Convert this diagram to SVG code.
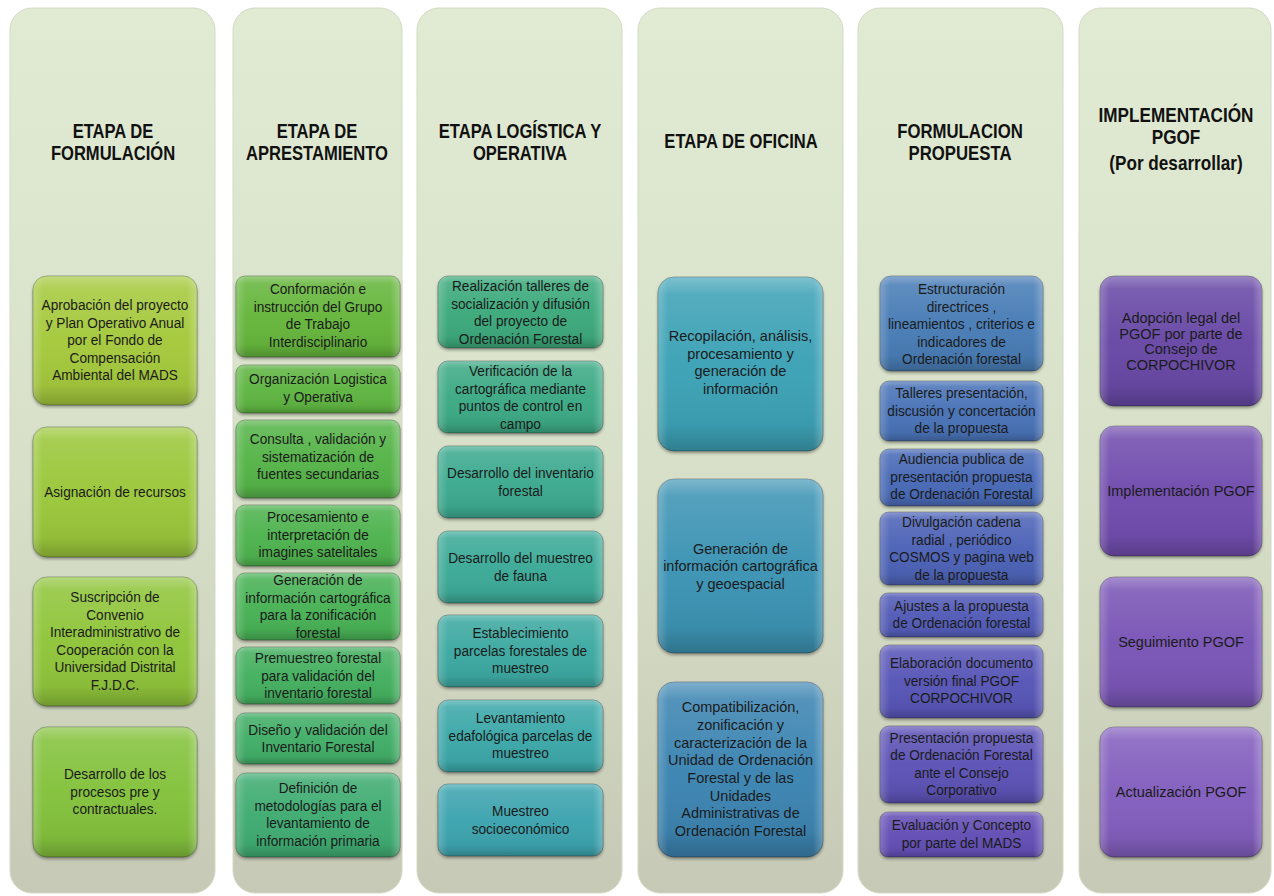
<svg xmlns="http://www.w3.org/2000/svg" width="1274" height="896" viewBox="0 0 1274 896">
<defs>
<linearGradient id="pg" x1="0" y1="0" x2="0" y2="1">
<stop offset="0" stop-color="#e1ebd3"/>
<stop offset="0.55" stop-color="#d7dfc8"/>
<stop offset="1" stop-color="#c6c9b5"/>
</linearGradient>
<linearGradient id="gloss" x1="0" y1="0" x2="0" y2="1">
<stop offset="0" stop-color="#fff" stop-opacity="0.34"/>
<stop offset="0.1" stop-color="#fff" stop-opacity="0.12"/>
<stop offset="0.5" stop-color="#fff" stop-opacity="0.02"/>
<stop offset="0.85" stop-color="#000" stop-opacity="0.05"/>
<stop offset="1" stop-color="#000" stop-opacity="0.22"/>
</linearGradient>
<linearGradient id="side" x1="0" y1="0" x2="1" y2="0">
<stop offset="0" stop-color="#fff" stop-opacity="0.2"/>
<stop offset="0.06" stop-color="#fff" stop-opacity="0"/>
<stop offset="0.94" stop-color="#fff" stop-opacity="0"/>
<stop offset="1" stop-color="#fff" stop-opacity="0.25"/>
</linearGradient>
<filter id="sh" x="-10%" y="-10%" width="120%" height="125%">
<feDropShadow dx="0" dy="2" stdDeviation="1.6" flood-color="#000" flood-opacity="0.35"/>
</filter>
</defs>
<style>
.panel{fill:url(#pg);stroke:#d2dac4;stroke-width:1}
.hd{font-family:"Liberation Sans",Arial,sans-serif;font-weight:bold;font-size:19.5px;fill:#111;text-anchor:middle}
.tn{font-family:"Liberation Sans",Arial,sans-serif;font-size:15.5px;fill:#1b1b1b;text-anchor:middle}
.tr{font-family:"Liberation Sans",Arial,sans-serif;font-size:14.5px;fill:#1b1b1b;text-anchor:middle}
.box{stroke:#000;stroke-opacity:0.3;stroke-width:1;filter:url(#sh)}
.gl{fill:url(#gloss)}
.sd{fill:url(#side)}
</style>
<rect width="1274" height="896" fill="#fff"/>

<g id="panels">
<rect class="panel" x="10" y="8" width="205" height="885" rx="22"/>
<rect class="panel" x="233" y="8" width="169" height="885" rx="22"/>
<rect class="panel" x="417" y="8" width="205" height="885" rx="22"/>
<rect class="panel" x="638" y="8" width="205" height="885" rx="22"/>
<rect class="panel" x="858" y="8" width="205" height="885" rx="22"/>
<rect class="panel" x="1079" y="8" width="192" height="885" rx="22"/>
</g>

<g id="headers">
<g id="h1" transform="translate(113 0) scale(0.85 1)"><text class="hd"><tspan x="0" y="138">ETAPA DE</tspan><tspan x="0" y="160">FORMULACIÓN</tspan></text></g>
<g id="h2" transform="translate(317 0) scale(0.85 1)"><text class="hd"><tspan x="0" y="138">ETAPA DE</tspan><tspan x="0" y="160">APRESTAMIENTO</tspan></text></g>
<g id="h3" transform="translate(520 0) scale(0.85 1)"><text class="hd"><tspan x="0" y="138">ETAPA LOGÍSTICA Y</tspan><tspan x="0" y="160">OPERATIVA</tspan></text></g>
<g id="h4" transform="translate(741 0) scale(0.85 1)"><text class="hd"><tspan x="0" y="148">ETAPA DE OFICINA</tspan></text></g>
<g id="h5" transform="translate(960 0) scale(0.86 1)"><text class="hd"><tspan x="0" y="138">FORMULACION</tspan><tspan x="0" y="160">PROPUESTA</tspan></text></g>
<g id="h6" transform="translate(1176 0) scale(0.88 1)"><text class="hd"><tspan x="0" y="122">IMPLEMENTACIÓN</tspan><tspan x="0" y="144">PGOF</tspan><tspan x="0" y="170.5">(Por desarrollar)</tspan></text></g>
</g>

<!-- Column 1 -->
<g id="c1b1"><rect class="box" x="33" y="276" width="164" height="129" rx="14" fill="#a5c93c"/><rect class="gl" x="33" y="276" width="164" height="129" rx="14"/><rect class="sd" x="33" y="276" width="164" height="129" rx="14"/>
<g transform="translate(115 0) scale(0.88 1)"><text class="tn"><tspan x="0" y="310.5">Aprobación del proyecto</tspan><tspan x="0" y="328">y Plan Operativo Anual</tspan><tspan x="0" y="345.5">por el Fondo de</tspan><tspan x="0" y="363">Compensación</tspan><tspan x="0" y="380.5">Ambiental del MADS</tspan></text></g></g>
<g id="c1b2"><rect class="box" x="33" y="427" width="164" height="130" rx="14" fill="#9bc73a"/><rect class="gl" x="33" y="427" width="164" height="130" rx="14"/><rect class="sd" x="33" y="427" width="164" height="130" rx="14"/>
<g transform="translate(115 0) scale(0.88 1)"><text class="tn"><tspan x="0" y="497">Asignación de recursos</tspan></text></g></g>
<g id="c1b3"><rect class="box" x="33" y="577" width="164" height="129" rx="14" fill="#90c53a"/><rect class="gl" x="33" y="577" width="164" height="129" rx="14"/><rect class="sd" x="33" y="577" width="164" height="129" rx="14"/>
<g transform="translate(115 0) scale(0.88 1)"><text class="tn"><tspan x="0" y="602.5">Suscripción de</tspan><tspan x="0" y="620">Convenio</tspan><tspan x="0" y="637.5">Interadministrativo de</tspan><tspan x="0" y="655">Cooperación con la</tspan><tspan x="0" y="672.5">Universidad Distrital</tspan><tspan x="0" y="690">F.J.D.C.</tspan></text></g></g>
<g id="c1b4"><rect class="box" x="33" y="727" width="164" height="130" rx="14" fill="#84c23d"/><rect class="gl" x="33" y="727" width="164" height="130" rx="14"/><rect class="sd" x="33" y="727" width="164" height="130" rx="14"/>
<g transform="translate(115 0) scale(0.88 1)"><text class="tn"><tspan x="0" y="779.5">Desarrollo de los</tspan><tspan x="0" y="797">procesos pre y</tspan><tspan x="0" y="814.5">contractuales.</tspan></text></g></g>

<!-- Column 2 -->
<g id="c2b1"><rect class="box" x="236" y="276" width="164" height="81" rx="9" fill="#66b63e"/><rect class="gl" x="236" y="276" width="164" height="81" rx="9"/><rect class="sd" x="236" y="276" width="164" height="81" rx="9"/>
<g transform="translate(318 0) scale(0.88 1)"><text class="tn"><tspan x="0" y="294.5">Conformación e</tspan><tspan x="0" y="312">instrucción del Grupo</tspan><tspan x="0" y="329.5">de Trabajo</tspan><tspan x="0" y="347">Interdisciplinario</tspan></text></g></g>
<g id="c2b2"><rect class="box" x="236" y="365" width="164" height="48" rx="8" fill="#5eb543"/><rect class="gl" x="236" y="365" width="164" height="48" rx="8"/><rect class="sd" x="236" y="365" width="164" height="48" rx="8"/>
<g transform="translate(318 0) scale(0.88 1)"><text class="tn"><tspan x="0" y="384.5">Organización Logistica</tspan><tspan x="0" y="402">y Operativa</tspan></text></g></g>
<g id="c2b3"><rect class="box" x="236" y="420" width="164" height="78" rx="9" fill="#56b448"/><rect class="gl" x="236" y="420" width="164" height="78" rx="9"/><rect class="sd" x="236" y="420" width="164" height="78" rx="9"/>
<g transform="translate(318 0) scale(0.88 1)"><text class="tn"><tspan x="0" y="444.5">Consulta , validación y</tspan><tspan x="0" y="462">sistematización de</tspan><tspan x="0" y="479.5">fuentes secundarias</tspan></text></g></g>
<g id="c2b4"><rect class="box" x="236" y="505" width="164" height="61" rx="9" fill="#4fb34f"/><rect class="gl" x="236" y="505" width="164" height="61" rx="9"/><rect class="sd" x="236" y="505" width="164" height="61" rx="9"/>
<g transform="translate(318 0) scale(0.88 1)"><text class="tn"><tspan x="0" y="522.5">Procesamiento e</tspan><tspan x="0" y="540">interpretación de</tspan><tspan x="0" y="557.5">imagines satelitales</tspan></text></g></g>
<g id="c2b5"><rect class="box" x="236" y="573" width="164" height="67" rx="9" fill="#49b257"/><rect class="gl" x="236" y="573" width="164" height="67" rx="9"/><rect class="sd" x="236" y="573" width="164" height="67" rx="9"/>
<g transform="translate(318 0) scale(0.88 1)"><text class="tn"><tspan x="0" y="585.5">Generación de</tspan><tspan x="0" y="603">información cartográfica</tspan><tspan x="0" y="620.5">para la zonificación</tspan><tspan x="0" y="638">forestal</tspan></text></g></g>
<g id="c2b6"><rect class="box" x="236" y="647" width="164" height="57" rx="9" fill="#45b060"/><rect class="gl" x="236" y="647" width="164" height="57" rx="9"/><rect class="sd" x="236" y="647" width="164" height="57" rx="9"/>
<g transform="translate(318 0) scale(0.88 1)"><text class="tn"><tspan x="0" y="663.5">Premuestreo forestal</tspan><tspan x="0" y="681">para validación del</tspan><tspan x="0" y="698.5">inventario forestal</tspan></text></g></g>
<g id="c2b7"><rect class="box" x="236" y="713" width="164" height="51" rx="9" fill="#42ae68"/><rect class="gl" x="236" y="713" width="164" height="51" rx="9"/><rect class="sd" x="236" y="713" width="164" height="51" rx="9"/>
<g transform="translate(318 0) scale(0.88 1)"><text class="tn"><tspan x="0" y="735">Diseño y validación del</tspan><tspan x="0" y="752.5">Inventario Forestal</tspan></text></g></g>
<g id="c2b8"><rect class="box" x="236" y="773" width="164" height="84" rx="10" fill="#40ac72"/><rect class="gl" x="236" y="773" width="164" height="84" rx="10"/><rect class="sd" x="236" y="773" width="164" height="84" rx="10"/>
<g transform="translate(318 0) scale(0.88 1)"><text class="tn"><tspan x="0" y="793.5">Definición de</tspan><tspan x="0" y="811">metodologías para el</tspan><tspan x="0" y="828.5">levantamiento de</tspan><tspan x="0" y="846">información primaria</tspan></text></g></g>

<!-- Column 3 -->
<g id="c3b1"><rect class="box" x="438" y="276" width="165" height="72" rx="10" fill="#3caa7b"/><rect class="gl" x="438" y="276" width="165" height="72" rx="10"/><rect class="sd" x="438" y="276" width="165" height="72" rx="10"/>
<g transform="translate(520.5 0) scale(0.88 1)"><text class="tn"><tspan x="0" y="291.5">Realización talleres de</tspan><tspan x="0" y="309">socialización y difusión</tspan><tspan x="0" y="326.5">del proyecto de</tspan><tspan x="0" y="344">Ordenación Forestal</tspan></text></g></g>
<g id="c3b2"><rect class="box" x="438" y="361" width="165" height="72" rx="10" fill="#3caa85"/><rect class="gl" x="438" y="361" width="165" height="72" rx="10"/><rect class="sd" x="438" y="361" width="165" height="72" rx="10"/>
<g transform="translate(520.5 0) scale(0.88 1)"><text class="tn"><tspan x="0" y="376.5">Verificación de la</tspan><tspan x="0" y="394">cartográfica mediante</tspan><tspan x="0" y="411.5">puntos de control en</tspan><tspan x="0" y="429">campo</tspan></text></g></g>
<g id="c3b3"><rect class="box" x="438" y="446" width="165" height="72" rx="10" fill="#3caa8f"/><rect class="gl" x="438" y="446" width="165" height="72" rx="10"/><rect class="sd" x="438" y="446" width="165" height="72" rx="10"/>
<g transform="translate(520.5 0) scale(0.88 1)"><text class="tn"><tspan x="0" y="478.5">Desarrollo del inventario</tspan><tspan x="0" y="496">forestal</tspan></text></g></g>
<g id="c3b4"><rect class="box" x="438" y="531" width="165" height="72" rx="10" fill="#3caa98"/><rect class="gl" x="438" y="531" width="165" height="72" rx="10"/><rect class="sd" x="438" y="531" width="165" height="72" rx="10"/>
<g transform="translate(520.5 0) scale(0.88 1)"><text class="tn"><tspan x="0" y="563.5">Desarrollo del muestreo</tspan><tspan x="0" y="581">de fauna</tspan></text></g></g>
<g id="c3b5"><rect class="box" x="438" y="615" width="165" height="72" rx="10" fill="#3ca9a1"/><rect class="gl" x="438" y="615" width="165" height="72" rx="10"/><rect class="sd" x="438" y="615" width="165" height="72" rx="10"/>
<g transform="translate(520.5 0) scale(0.88 1)"><text class="tn"><tspan x="0" y="638.5">Establecimiento</tspan><tspan x="0" y="656">parcelas forestales de</tspan><tspan x="0" y="673.5">muestreo</tspan></text></g></g>
<g id="c3b6"><rect class="box" x="438" y="700" width="165" height="72" rx="10" fill="#3ca8a9"/><rect class="gl" x="438" y="700" width="165" height="72" rx="10"/><rect class="sd" x="438" y="700" width="165" height="72" rx="10"/>
<g transform="translate(520.5 0) scale(0.88 1)"><text class="tn"><tspan x="0" y="723.5">Levantamiento</tspan><tspan x="0" y="741">edafológica parcelas de</tspan><tspan x="0" y="758.5">muestreo</tspan></text></g></g>
<g id="c3b7"><rect class="box" x="438" y="784" width="165" height="72" rx="10" fill="#3ca4af"/><rect class="gl" x="438" y="784" width="165" height="72" rx="10"/><rect class="sd" x="438" y="784" width="165" height="72" rx="10"/>
<g transform="translate(520.5 0) scale(0.88 1)"><text class="tn"><tspan x="0" y="816.5">Muestreo</tspan><tspan x="0" y="834">socioeconómico</tspan></text></g></g>

<!-- Column 4 -->
<g id="c4b1"><rect class="box" x="658" y="277" width="165" height="174" rx="16" fill="#3ea2b6"/><rect class="gl" x="658" y="277" width="165" height="174" rx="16"/><rect class="sd" x="658" y="277" width="165" height="174" rx="16"/>
<text class="tr"><tspan x="740.5" y="341">Recopilación, análisis,</tspan><tspan x="740.5" y="358.7">procesamiento y</tspan><tspan x="740.5" y="376.4">generación de</tspan><tspan x="740.5" y="394.1">información</tspan></text></g>
<g id="c4b2"><rect class="box" x="658" y="479" width="165" height="174" rx="16" fill="#3d94b4"/><rect class="gl" x="658" y="479" width="165" height="174" rx="16"/><rect class="sd" x="658" y="479" width="165" height="174" rx="16"/>
<text class="tr"><tspan x="740.5" y="553.5">Generación de</tspan><tspan x="740.5" y="571.2">información cartográfica</tspan><tspan x="740.5" y="588.9">y geoespacial</tspan></text></g>
<g id="c4b3"><rect class="box" x="658" y="682" width="165" height="175" rx="16" fill="#3c85b2"/><rect class="gl" x="658" y="682" width="165" height="175" rx="16"/><rect class="sd" x="658" y="682" width="165" height="175" rx="16"/>
<text class="tr"><tspan x="740.5" y="712.2">Compatibilización,</tspan><tspan x="740.5" y="729.9">zonificación y</tspan><tspan x="740.5" y="747.6">caracterización de la</tspan><tspan x="740.5" y="765.3">Unidad de Ordenación</tspan><tspan x="740.5" y="783">Forestal y de las</tspan><tspan x="740.5" y="800.7">Unidades</tspan><tspan x="740.5" y="818.4">Administrativas de</tspan><tspan x="740.5" y="836.1">Ordenación Forestal</tspan></text></g>

<!-- Column 5 -->
<g id="c5b1"><rect class="box" x="880" y="276" width="163" height="95" rx="11" fill="#487db6"/><rect class="gl" x="880" y="276" width="163" height="95" rx="11"/><rect class="sd" x="880" y="276" width="163" height="95" rx="11"/>
<g transform="translate(961.5 0) scale(0.88 1)"><text class="tn"><tspan x="0" y="294.5">Estructuración</tspan><tspan x="0" y="312">directrices ,</tspan><tspan x="0" y="329.5">lineamientos , criterios e</tspan><tspan x="0" y="347">indicadores de</tspan><tspan x="0" y="364.5">Ordenación forestal</tspan></text></g></g>
<g id="c5b2"><rect class="box" x="880" y="381" width="163" height="60" rx="9" fill="#4873b7"/><rect class="gl" x="880" y="381" width="163" height="60" rx="9"/><rect class="sd" x="880" y="381" width="163" height="60" rx="9"/>
<g transform="translate(961.5 0) scale(0.88 1)"><text class="tn"><tspan x="0" y="398.5">Talleres presentación,</tspan><tspan x="0" y="416">discusión y concertación</tspan><tspan x="0" y="433.5">de la propuesta</tspan></text></g></g>
<g id="c5b3"><rect class="box" x="880" y="449" width="163" height="57" rx="9" fill="#4a6bb7"/><rect class="gl" x="880" y="449" width="163" height="57" rx="9"/><rect class="sd" x="880" y="449" width="163" height="57" rx="9"/>
<g transform="translate(961.5 0) scale(0.88 1)"><text class="tn"><tspan x="0" y="464.5">Audiencia publica de</tspan><tspan x="0" y="482">presentación propuesta</tspan><tspan x="0" y="499.5">de Ordenación Forestal</tspan></text></g></g>
<g id="c5b4"><rect class="box" x="880" y="512" width="163" height="73" rx="9" fill="#4e64b7"/><rect class="gl" x="880" y="512" width="163" height="73" rx="9"/><rect class="sd" x="880" y="512" width="163" height="73" rx="9"/>
<g transform="translate(961.5 0) scale(0.88 1)"><text class="tn"><tspan x="0" y="527.5">Divulgación cadena</tspan><tspan x="0" y="545">radial , periódico</tspan><tspan x="0" y="562.5">COSMOS y pagina web</tspan><tspan x="0" y="580">de la propuesta</tspan></text></g></g>
<g id="c5b5"><rect class="box" x="880" y="593" width="163" height="44" rx="8" fill="#535cb7"/><rect class="gl" x="880" y="593" width="163" height="44" rx="8"/><rect class="sd" x="880" y="593" width="163" height="44" rx="8"/>
<g transform="translate(961.5 0) scale(0.88 1)"><text class="tn"><tspan x="0" y="611">Ajustes a la propuesta</tspan><tspan x="0" y="628.5">de Ordenación forestal</tspan></text></g></g>
<g id="c5b6"><rect class="box" x="880" y="645" width="163" height="73" rx="9" fill="#5856b7"/><rect class="gl" x="880" y="645" width="163" height="73" rx="9"/><rect class="sd" x="880" y="645" width="163" height="73" rx="9"/>
<g transform="translate(961.5 0) scale(0.88 1)"><text class="tn"><tspan x="0" y="668.5">Elaboración documento</tspan><tspan x="0" y="686">versión final PGOF</tspan><tspan x="0" y="703.5">CORPOCHIVOR</tspan></text></g></g>
<g id="c5b7"><rect class="box" x="880" y="726" width="163" height="77" rx="9" fill="#5d52b6"/><rect class="gl" x="880" y="726" width="163" height="77" rx="9"/><rect class="sd" x="880" y="726" width="163" height="77" rx="9"/>
<g transform="translate(961.5 0) scale(0.88 1)"><text class="tn"><tspan x="0" y="743">Presentación propuesta</tspan><tspan x="0" y="760.5">de Ordenación Forestal</tspan><tspan x="0" y="778">ante el Consejo</tspan><tspan x="0" y="795.5">Corporativo</tspan></text></g></g>
<g id="c5b8"><rect class="box" x="880" y="812" width="163" height="45" rx="8" fill="#634fb5"/><rect class="gl" x="880" y="812" width="163" height="45" rx="8"/><rect class="sd" x="880" y="812" width="163" height="45" rx="8"/>
<g transform="translate(961.5 0) scale(0.88 1)"><text class="tn"><tspan x="0" y="830.5">Evaluación y Concepto</tspan><tspan x="0" y="848">por parte del MADS</tspan></text></g></g>

<!-- Column 6 -->
<g id="c6b1"><rect class="box" x="1100" y="276" width="162" height="130" rx="14" fill="#6848a6"/><rect class="gl" x="1100" y="276" width="162" height="130" rx="14"/><rect class="sd" x="1100" y="276" width="162" height="130" rx="14"/>
<text class="tr"><tspan x="1181" y="323">Adopción legal del</tspan><tspan x="1181" y="338.5">PGOF por parte de</tspan><tspan x="1181" y="354">Consejo de</tspan><tspan x="1181" y="369.5">CORPOCHIVOR</tspan></text></g>
<g id="c6b2"><rect class="box" x="1100" y="426" width="162" height="130" rx="14" fill="#714eae"/><rect class="gl" x="1100" y="426" width="162" height="130" rx="14"/><rect class="sd" x="1100" y="426" width="162" height="130" rx="14"/>
<text class="tr"><tspan x="1181" y="496">Implementación PGOF</tspan></text></g>
<g id="c6b3"><rect class="box" x="1100" y="577" width="162" height="130" rx="14" fill="#7a56b6"/><rect class="gl" x="1100" y="577" width="162" height="130" rx="14"/><rect class="sd" x="1100" y="577" width="162" height="130" rx="14"/>
<text class="tr"><tspan x="1181" y="647">Seguimiento PGOF</tspan></text></g>
<g id="c6b4"><rect class="box" x="1100" y="727" width="162" height="130" rx="14" fill="#835ebe"/><rect class="gl" x="1100" y="727" width="162" height="130" rx="14"/><rect class="sd" x="1100" y="727" width="162" height="130" rx="14"/>
<text class="tr"><tspan x="1181" y="797">Actualización PGOF</tspan></text></g>
</svg>
